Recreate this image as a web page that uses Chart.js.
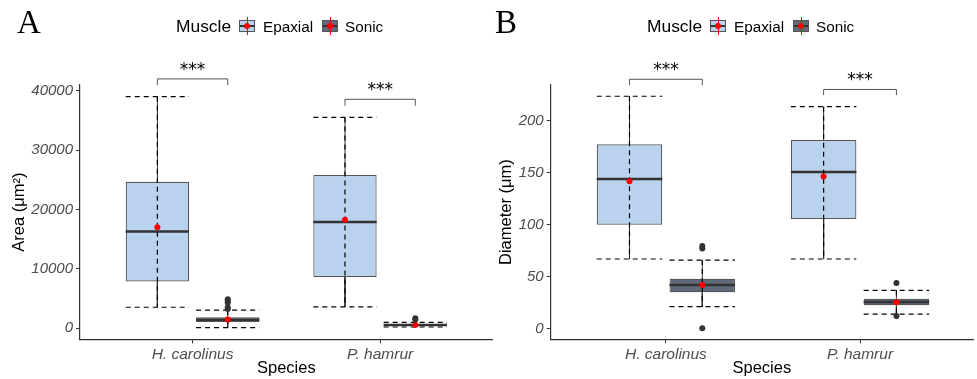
<!DOCTYPE html>
<html>
<head>
<meta charset="utf-8">
<script src="https://cdn.jsdelivr.net/npm/chart.js@4.4.1/dist/chart.umd.min.js"></script>
<style>
body { margin:0; background:#fff; width:977px; height:379px; position:relative; overflow:hidden; font-family:'Liberation Sans', Arial, sans-serif; }
canvas { position:absolute; top:0; }
#chartA { left:0; }
#chartB { left:495px; }
.tag { position:absolute; top:6px; font-family:'Liberation Serif', 'Times New Roman', serif; font-size:33px; line-height:33px; color:#000; }
.leg { position:absolute; top:16px; font-size:17.4px; line-height:20px; color:#000; white-space:nowrap; }
.lab { position:absolute; top:16.7px; font-size:15.3px; line-height:20px; color:#000; white-space:nowrap; }
.key { position:absolute; top:20px; width:16px; height:12px; border:1px solid #555; box-sizing:border-box; }
.key .med { position:absolute; left:0; right:0; top:4px; height:2px; background:#333; }
.key .vl { position:absolute; left:6.5px; width:1px; top:-4px; height:18px; background:#f00; }
.key .dot { position:absolute; left:4px; top:2px; width:6px; height:6px; border-radius:50%; background:#f00; }
</style>
</head>
<body>
<canvas id="chartA" width="500" height="379"></canvas>
<canvas id="chartB" width="482" height="379"></canvas>

<div class="tag" style="left:17px">A</div>
<div class="leg" style="left:176px">Muscle</div>
<div class="key" style="left:239px;background:#b9d3ee"><div class="med"></div><div class="vl"></div><div class="dot"></div></div>
<div class="lab" style="left:263px">Epaxial</div>
<div class="key" style="left:322px;background:#5f6b7a"><div class="med"></div><div class="vl"></div><div class="dot"></div></div>
<div class="lab" style="left:345px">Sonic</div>

<div class="tag" style="left:495px">B</div>
<div class="leg" style="left:647px">Muscle</div>
<div class="key" style="left:710px;background:#b9d3ee"><div class="med"></div><div class="vl"></div><div class="dot"></div></div>
<div class="lab" style="left:734px">Epaxial</div>
<div class="key" style="left:793px;background:#5f6b7a"><div class="med"></div><div class="vl"></div><div class="dot"></div></div>
<div class="lab" style="left:816px">Sonic</div>

<script>
const species = ['H. carolinus', 'P. hamrur'];
const muscles = ['Epaxial', 'Sonic'];

// per species: [lower whisker, Q1, median, Q3, upper whisker]
const areaEpaxial = [[3550, 7900, 16300, 24700, 39050], [3600, 8650, 17900, 25850, 35550]];
const areaSonic = [[100, 1060, 1450, 1850, 3080], [220, 400, 560, 730, 1010]];
const areaEpaxialMean = [17050, 18300];
const areaSonicMean = [1500, 560];
const areaEpaxialOut = [[], []];
const areaSonicOut = [[3250, 3500, 4300, 4600, 4900], [1450, 1700]];
const areaTicks = [0, 10000, 20000, 30000, 40000];
const areaBracket = [42040, 38600];
const areaBracketTip = [41000, 37520];

const diamEpaxial = [[67, 100, 144, 177.3, 223.5], [67, 105.5, 150.7, 181.3, 213.5]];
const diamSonic = [[21.2, 35, 42, 48, 66], [14.1, 22.5, 25.7, 28.8, 36.9]];
const diamEpaxialMean = [141.7, 146.3];
const diamSonicMean = [42, 25.4];
const diamEpaxialOut = [[], []];
const diamSonicOut = [[0.5, 77, 79.5], [12.2, 44]];
const diamTicks = [0, 50, 100, 150, 200];
const diamBracket = [239.8, 230];
const diamBracketTip = [234.2, 224.5];

const fam = "'Liberation Sans', Arial, sans-serif";
const fills = ['#b9d3ee', '#5f6b7a'];
const dodge = 0.1875, half = 0.16875;

// push a polyline then a gap
let seg = (list, pts) => {
    pts.forEach(p => list.push({x: p[0], y: p[1]}));
    list.push({x: pts[0][0], y: null});
};

let lineSet = (data, color, width, dash, order) => ({
    type: 'line', data: data, order: order,
    borderColor: color, borderWidth: width, borderDash: dash,
    showLine: true, spanGaps: false, fill: false, tension: 0,
    pointRadius: 0, pointHoverRadius: 0
});

function makePanel(id, o) {
    const groups = [o.epaxial, o.sonic];
    const means = [o.epaxialMean, o.sonicMean];
    const outs = [o.epaxialOut, o.sonicOut];
    let whisk = [], dash = [], med = [], meanPts = [], outPts = [];

    let bars = groups.map((g, m) => ({
        type: 'bar', label: muscles[m], order: 5,
        data: g.map((s, i) => ({x: i + 1, y: [s[1], s[3]]})),
        backgroundColor: fills[m], borderColor: '#555', borderWidth: 1.2, borderSkipped: false,
        categoryPercentage: 0.75, barPercentage: 0.9
    }));

    groups.forEach((g, m) => g.forEach((s, i) => {
        let xc = i + 1 + (m ? dodge : -dodge);
        seg(whisk, [[xc, s[3]], [xc, s[4]]]);
        seg(whisk, [[xc, s[1]], [xc, s[0]]]);
        seg(dash, [[xc - half, s[4]], [xc + half, s[4]]]);
        seg(dash, [[xc, s[4]], [xc, s[0]]]);
        seg(dash, [[xc - half, s[0]], [xc + half, s[0]]]);
        seg(med, [[xc - half, s[2]], [xc + half, s[2]]]);
        meanPts.push({x: xc, y: means[m][i]});
        outs[m][i].forEach(v => outPts.push({x: xc, y: v}));
    }));

    let brackets = {
        id: 'brackets',
        afterDatasetsDraw(chart) {
            const {ctx, scales: {x, y}} = chart;
            ctx.save();
            ctx.strokeStyle = '#555';
            ctx.lineWidth = 1;
            ctx.fillStyle = '#000';
            ctx.font = "17px 'DejaVu Sans', sans-serif";
            ctx.textAlign = 'center';
            ctx.textBaseline = 'alphabetic';
            species.forEach((sp, i) => {
                let x1 = x.getPixelForValue(i + 1 - dodge), x2 = x.getPixelForValue(i + 1 + dodge);
                let yt = y.getPixelForValue(o.bracket[i]), yb = y.getPixelForValue(o.bracketTip[i]);
                ctx.beginPath();
                ctx.moveTo(x1, yb); ctx.lineTo(x1, yt); ctx.lineTo(x2, yt); ctx.lineTo(x2, yb);
                ctx.stroke();
                ctx.fillText('***', (x1 + x2) / 2, yt - 4);
            });
            ctx.restore();
        }
    };

    let axisCommon = {
        grid: { display: true, drawOnChartArea: false, drawTicks: true, tickLength: 4, color: '#333', lineWidth: 1, offset: false },
        border: { display: true, color: '#333', width: 1.2 }
    };

    return new Chart(document.getElementById(id), {
        type: 'bar',
        data: {
            datasets: [
                ...bars,
                lineSet(whisk, '#333', 1, [], 4),
                lineSet(med, '#333', 2.5, [], 3),
                lineSet(dash, '#000', 1.2, [5, 4], 2),
                { type: 'line', data: meanPts, order: 1, showLine: false, pointRadius: 3, pointBackgroundColor: '#f00', pointBorderWidth: 0 },
                { type: 'line', data: outPts, order: 0, showLine: false, pointRadius: 3, pointBackgroundColor: '#333', pointBorderWidth: 0 }
            ]
        },
        options: {
            responsive: false,
            animation: false,
            layout: { padding: { top: 85, right: o.padRight, left: 0, bottom: 0 } },
            plugins: { legend: { display: false }, tooltip: { enabled: false } },
            scales: {
                x: {
                    type: 'linear', min: o.xMin, max: o.xMax, offset: false,
                    afterBuildTicks: s => { s.ticks = species.map((_, i) => ({value: i + 1})); },
                    afterFit: s => { s.height = 39.7; },
                    ticks: { callback: v => species[v - 1], autoSkip: false, maxRotation: 0, padding: 2,
                             color: '#4d4d4d', font: { family: fam, size: 15.5, style: 'italic' } },
                    title: { display: true, text: 'Species', color: '#000', font: { family: fam, size: 16.5 }, padding: { top: 0, bottom: 1 } },
                    ...axisCommon
                },
                y: {
                    type: 'linear', min: o.yMin, max: o.yMax,
                    afterBuildTicks: s => { s.ticks = o.ticks.map(v => ({value: v})); },
                    afterFit: s => { s.width = o.yWidth; },
                    ticks: { callback: v => String(v), padding: 3, color: '#4d4d4d', font: { family: fam, size: 15, style: 'italic' } },
                    title: { display: true, text: o.title, color: '#000', font: { family: fam, size: 16.5 }, padding: { top: o.titlePad, bottom: 0 } },
                    ...axisCommon
                }
            }
        },
        plugins: [brackets]
    });
}

makePanel('chartA', {
    epaxial: areaEpaxial, sonic: areaSonic,
    epaxialMean: areaEpaxialMean, sonicMean: areaSonicMean,
    epaxialOut: areaEpaxialOut, sonicOut: areaSonicOut,
    ticks: areaTicks, bracket: areaBracket, bracketTip: areaBracketTip,
    title: 'Area (μm²)', yMin: -1854, yMax: 41011, xMin: 0.4, xMax: 2.6,
    yWidth: 80, padRight: 7.3, titlePad: 10
});

makePanel('chartB', {
    epaxial: diamEpaxial, sonic: diamSonic,
    epaxialMean: diamEpaxialMean, sonicMean: diamSonicMean,
    epaxialOut: diamEpaxialOut, sonicOut: diamSonicOut,
    ticks: diamTicks, bracket: diamBracket, bracketTip: diamBracketTip,
    title: 'Diameter (μm)', yMin: -10.2, yMax: 234.3, xMin: 0.4066, xMax: 2.582,
    yWidth: 55.7, padRight: 0, titlePad: 2
});
</script>
</body>
</html>
